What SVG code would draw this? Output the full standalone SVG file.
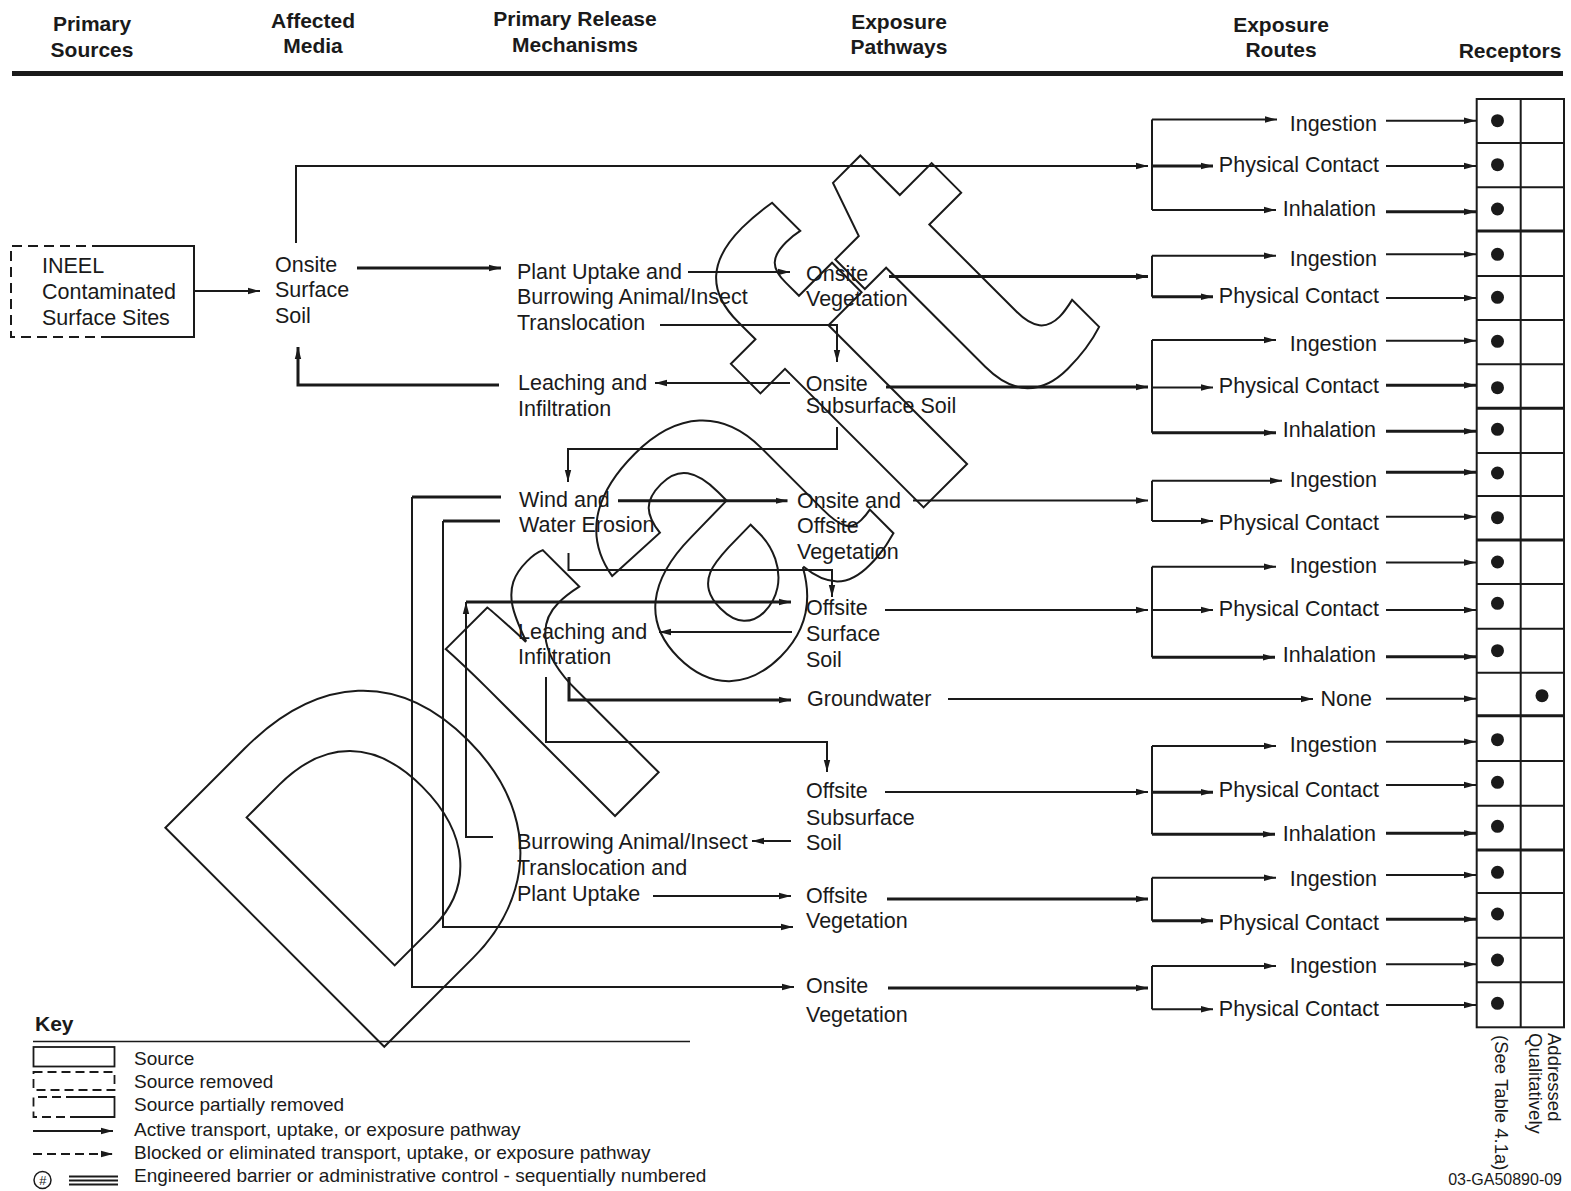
<svg xmlns="http://www.w3.org/2000/svg" width="1571" height="1191" viewBox="0 0 1571 1191">
<style>
text{fill:#1a1a1a}
.h{font:bold 21px "Liberation Sans",Arial,sans-serif;text-anchor:middle}
.t{font:21.5px "Liberation Sans",Arial,sans-serif}
.e{text-anchor:end}
.k{font:19px "Liberation Sans",Arial,sans-serif}
.v{font:18.5px "Liberation Sans",Arial,sans-serif}
.ln{fill:none;stroke:#1a1a1a;stroke-width:2}
.th{stroke-width:3}
.ar{marker-end:url(#ah)}
.ds{stroke-dasharray:10,6}
.dot{fill:#1a1a1a}
.wm{font:bold 450px "Liberation Sans",Arial,sans-serif;fill:none;stroke:#1a1a1a;stroke-width:2}
</style>
<defs>
<marker id="ah" markerWidth="12" markerHeight="8" refX="12" refY="4" orient="auto" markerUnits="userSpaceOnUse"><path d="M0,0.8 L12,4 L0,7.2 z" fill="#1a1a1a"/></marker>
</defs>
<rect width="1571" height="1191" fill="#fff"/>

<g id="header">
<text class="h" x="92" y="31">Primary</text><text class="h" x="92" y="57">Sources</text>
<text class="h" x="313" y="28">Affected</text><text class="h" x="313" y="53">Media</text>
<text class="h" x="575" y="26">Primary Release</text><text class="h" x="575" y="52">Mechanisms</text>
<text class="h" x="899" y="29">Exposure</text><text class="h" x="899" y="54">Pathways</text>
<text class="h" x="1281" y="32">Exposure</text><text class="h" x="1281" y="57">Routes</text>
<text class="h" x="1510" y="58">Receptors</text>
<rect x="12" y="71" width="1551" height="5" fill="#1a1a1a"/>
</g>

<g id="connectors">
<path class="ln ar" d="M194,291 H260"/>
<path class="ln ar" d="M296,243 V166 H1148"/>
<path class="ln th ar" d="M357,268 H501"/>
<path class="ln th ar" d="M499,385 H298 V347"/>
<path class="ln ar" d="M688,272 H790"/>
<path class="ln ar" d="M660,325 H837 V362"/>
<path class="ln th ar" d="M889,276.5 H1148"/>
<path class="ln ar" d="M790,383 H655"/>
<path class="ln th ar" d="M886,387 H1148"/>
<path class="ln ar" d="M837,427 V449 H568 V482"/>
<path class="ln th ar" d="M618,500.7 H787.5"/>
<path class="ln ar" d="M913,500.5 H1148"/>
<path class="ln th" d="M501,497 H412"/>
<path class="ln ar" d="M412,497 V987 H794"/>
<path class="ln th" d="M500,521 H443"/>
<path class="ln ar" d="M443,521 V927 H793"/>
<path class="ln ar" d="M568.5,553 V570 H832 V597"/>
<path class="ln ar" d="M493,837 H466 V602"/>
<path class="ln th ar" d="M466,602 H791"/>
<path class="ln ar" d="M885,610 H1148"/>
<path class="ln ar" d="M792,632 H659"/>
<path class="ln th ar" d="M569,677 V700 H791"/>
<path class="ln ar" d="M948,699 H1313"/>
<path class="ln ar" d="M546,677 V742 H827 V772"/>
<path class="ln ar" d="M885,792 H1148"/>
<path class="ln ar" d="M791,841 H752"/>
<path class="ln ar" d="M653,896 H791"/>
<path class="ln th ar" d="M887,899 H1148"/>
<path class="ln th ar" d="M888,988 H1148"/>
<!-- brackets -->
<path class="ln" d="M1152,119.5 V210 M1152,255.7 V296.7 M1152,340 V432.7 M1152,480.7 V521 M1152,566.7 V657.3 M1152,746 V834.3 M1152,877.7 V920.7 M1152,966 V1009.3"/>
<path class="ln ar" d="M1152,119.5 H1277"/>
<path class="ln th ar" d="M1152,166 H1213"/>
<path class="ln ar" d="M1152,210 H1276"/>
<path class="ln ar" d="M1152,255.7 H1276"/>
<path class="ln th ar" d="M1152,296.7 H1213"/>
<path class="ln ar" d="M1152,340 H1276"/>
<path class="ln ar" d="M1152,387.5 H1213"/>
<path class="ln th ar" d="M1152,432.7 H1276"/>
<path class="ln ar" d="M1152,480.7 H1282"/>
<path class="ln ar" d="M1152,521 H1213"/>
<path class="ln ar" d="M1152,566.7 H1276"/>
<path class="ln ar" d="M1152,610 H1213"/>
<path class="ln th ar" d="M1152,657.3 H1275"/>
<path class="ln ar" d="M1152,746 H1276"/>
<path class="ln th ar" d="M1152,792.3 H1213"/>
<path class="ln th ar" d="M1152,834.3 H1275"/>
<path class="ln ar" d="M1152,877.7 H1276"/>
<path class="ln th ar" d="M1152,920.7 H1213"/>
<path class="ln ar" d="M1152,966 H1276"/>
<path class="ln ar" d="M1152,1009.3 H1213"/>
<!-- route to receptor arrows -->
<path class="ln ar" d="M1386,120.7 H1476"/>
<path class="ln ar" d="M1386,166 H1476"/>
<path class="ln th ar" d="M1386,211.7 H1476"/>
<path class="ln ar" d="M1386,254.3 H1476"/>
<path class="ln ar" d="M1386,298 H1476"/>
<path class="ln ar" d="M1386,340.7 H1476"/>
<path class="ln th ar" d="M1386,385.3 H1476"/>
<path class="ln th ar" d="M1386,431.3 H1476"/>
<path class="ln th ar" d="M1386,472.3 H1476"/>
<path class="ln ar" d="M1386,516.7 H1476"/>
<path class="ln ar" d="M1386,562.5 H1476"/>
<path class="ln ar" d="M1386,610 H1476"/>
<path class="ln th ar" d="M1386,656.7 H1476"/>
<path class="ln ar" d="M1386,698.7 H1476"/>
<path class="ln ar" d="M1386,741.7 H1476"/>
<path class="ln ar" d="M1386,785 H1476"/>
<path class="ln th ar" d="M1386,833.3 H1476"/>
<path class="ln ar" d="M1386,875 H1476"/>
<path class="ln th ar" d="M1386,919.3 H1476"/>
<path class="ln ar" d="M1386,964.3 H1476"/>
<path class="ln ar" d="M1386,1005 H1476"/>
</g>

<g id="ineel-sites">
<path class="ln" d="M102,246 H194 V337 H102"/>
<path class="ln ds" d="M102,246 H11 V337 H102"/>
<text class="t" x="42" y="273">INEEL</text>
<text class="t" x="42" y="299">Contaminated</text>
<text class="t" x="42" y="325">Surface Sites</text>
</g>
<g id="onsite-surface-soil"><text class="t" x="275" y="272">Onsite</text><text class="t" x="275" y="297">Surface</text><text class="t" x="275" y="322.5">Soil</text></g>
<g id="plant-uptake-1"><text class="t" x="517" y="278.5">Plant Uptake and</text><text class="t" x="517" y="304">Burrowing Animal/Insect</text><text class="t" x="517" y="330">Translocation</text></g>
<g id="leaching-1"><text class="t" x="518" y="390">Leaching and</text><text class="t" x="518" y="416">Infiltration</text></g>
<g id="wind-water-erosion"><text class="t" x="519" y="506.7">Wind and</text><text class="t" x="519" y="532.3">Water Erosion</text></g>
<g id="leaching-2"><text class="t" x="518" y="639.3">Leaching and</text><text class="t" x="518" y="664.3">Infiltration</text></g>
<g id="burrowing-2"><text class="t" x="517" y="849.3">Burrowing Animal/Insect</text><text class="t" x="517" y="875">Translocation and</text><text class="t" x="517" y="900.7">Plant Uptake</text></g>
<g id="onsite-vegetation-1"><text class="t" x="806" y="280.7">Onsite</text><text class="t" x="806" y="306">Vegetation</text></g>
<g id="onsite-subsurface-soil"><text class="t" x="805.7" y="391">Onsite</text><text class="t" x="805.7" y="413.3">Subsurface Soil</text></g>
<g id="onsite-offsite-vegetation"><text class="t" x="797" y="507.5">Onsite and</text><text class="t" x="797" y="533.3">Offsite</text><text class="t" x="797" y="559.3">Vegetation</text></g>
<g id="offsite-surface-soil"><text class="t" x="806" y="615.3">Offsite</text><text class="t" x="806" y="641.3">Surface</text><text class="t" x="806" y="667">Soil</text></g>
<g id="groundwater"><text class="t" x="807" y="706">Groundwater</text></g>
<g id="offsite-subsurface-soil"><text class="t" x="806" y="798.3">Offsite</text><text class="t" x="806" y="825">Subsurface</text><text class="t" x="806" y="850">Soil</text></g>
<g id="offsite-vegetation"><text class="t" x="806" y="902.7">Offsite</text><text class="t" x="806" y="928.3">Vegetation</text></g>
<g id="onsite-vegetation-2"><text class="t" x="806" y="993.3">Onsite</text><text class="t" x="806" y="1021.7">Vegetation</text></g>

<g id="routes">
<text class="t e" x="1377" y="130.7">Ingestion</text>
<text class="t e" x="1379" y="172.3">Physical Contact</text>
<text class="t e" x="1376" y="216">Inhalation</text>
<text class="t e" x="1377" y="265.7">Ingestion</text>
<text class="t e" x="1379" y="303.3">Physical Contact</text>
<text class="t e" x="1377" y="350.7">Ingestion</text>
<text class="t e" x="1379" y="392.7">Physical Contact</text>
<text class="t e" x="1376" y="436.7">Inhalation</text>
<text class="t e" x="1377" y="487.3">Ingestion</text>
<text class="t e" x="1379" y="530">Physical Contact</text>
<text class="t e" x="1377" y="573.3">Ingestion</text>
<text class="t e" x="1379" y="616">Physical Contact</text>
<text class="t e" x="1376" y="662.3">Inhalation</text>
<text class="t e" x="1372" y="705.7">None</text>
<text class="t e" x="1377" y="752.3">Ingestion</text>
<text class="t e" x="1379" y="796.7">Physical Contact</text>
<text class="t e" x="1376" y="841">Inhalation</text>
<text class="t e" x="1377" y="886">Ingestion</text>
<text class="t e" x="1379" y="930">Physical Contact</text>
<text class="t e" x="1377" y="973.3">Ingestion</text>
<text class="t e" x="1379" y="1015.7">Physical Contact</text>
</g>

<g id="receptors">
<rect class="ln" x="1476.7" y="99" width="87.3" height="928.3"/>
<path class="ln" d="M1520.7,99 V1027.3"/>
<path class="ln" d="M1476.7,143 H1564 M1476.7,187.3 H1564 M1476.7,276 H1564 M1476.7,320 H1564 M1476.7,364.3 H1564 M1476.7,453 H1564 M1476.7,496 H1564 M1476.7,584 H1564 M1476.7,628.7 H1564 M1476.7,672.7 H1564 M1476.7,761 H1564 M1476.7,805.7 H1564 M1476.7,893 H1564 M1476.7,937.7 H1564 M1476.7,982.3 H1564"/>
<path class="ln th" d="M1476.7,231 H1564 M1476.7,408.3 H1564 M1476.7,540 H1564 M1476.7,715.7 H1564 M1476.7,850 H1564"/>
<circle class="dot" cx="1497.5" cy="120.7" r="6.5"/>
<circle class="dot" cx="1497.5" cy="164.7" r="6.5"/>
<circle class="dot" cx="1497.5" cy="209" r="6.5"/>
<circle class="dot" cx="1497.5" cy="254.3" r="6.5"/>
<circle class="dot" cx="1497.5" cy="297.3" r="6.5"/>
<circle class="dot" cx="1497.5" cy="341.3" r="6.5"/>
<circle class="dot" cx="1497.5" cy="387.7" r="6.5"/>
<circle class="dot" cx="1497.5" cy="429.3" r="6.5"/>
<circle class="dot" cx="1497.5" cy="473" r="6.5"/>
<circle class="dot" cx="1497.5" cy="517.7" r="6.5"/>
<circle class="dot" cx="1497.5" cy="562" r="6.5"/>
<circle class="dot" cx="1497.5" cy="603.3" r="6.5"/>
<circle class="dot" cx="1497.5" cy="650.7" r="6.5"/>
<circle class="dot" cx="1542" cy="695.7" r="6.5"/>
<circle class="dot" cx="1497.5" cy="739.7" r="6.5"/>
<circle class="dot" cx="1497.5" cy="782.3" r="6.5"/>
<circle class="dot" cx="1497.5" cy="826.3" r="6.5"/>
<circle class="dot" cx="1497.5" cy="872.3" r="6.5"/>
<circle class="dot" cx="1497.5" cy="914" r="6.5"/>
<circle class="dot" cx="1497.5" cy="960" r="6.5"/>
<circle class="dot" cx="1497.5" cy="1003.3" r="6.5"/>
<text class="v" transform="translate(1495,1035) rotate(90)">(See Table 4.1a)</text>
<text class="v" transform="translate(1529,1033) rotate(90)">Qualitatively</text>
<text class="v" transform="translate(1548,1033) rotate(90)">Addressed</text>
</g>

<g id="key">
<text x="35" y="1031" style="font:bold 21px 'Liberation Sans',Arial,sans-serif">Key</text>
<path class="ln" style="stroke-width:1.5" d="M33,1041.5 H690"/>
<rect class="ln" style="stroke-width:1.8" x="33.5" y="1047" width="81" height="19.5"/>
<text class="k" x="134" y="1064.5">Source</text>
<rect class="ln" style="stroke-width:1.8;stroke-dasharray:9,5" x="33.5" y="1072" width="81" height="18"/>
<text class="k" x="134" y="1087.5">Source removed</text>
<path class="ln" style="stroke-width:1.8" d="M75,1097 H114.5 V1117 H75"/>
<path class="ln" style="stroke-width:1.8;stroke-dasharray:9,5" d="M75,1097 H33.5 V1117 H75"/>
<text class="k" x="134" y="1111">Source partially removed</text>
<path class="ln ar" style="stroke-width:1.8" d="M33,1131 H113"/>
<text class="k" x="134" y="1136">Active transport, uptake, or exposure pathway</text>
<path class="ln ar" style="stroke-width:1.8;stroke-dasharray:9,5" d="M33,1154 H113"/>
<text class="k" x="134" y="1159">Blocked or eliminated transport, uptake, or exposure pathway</text>
<circle class="ln" style="stroke-width:1.5" cx="42.5" cy="1180" r="8.5"/>
<text x="42.5" y="1185" style="font:italic 13px 'Liberation Sans',Arial,sans-serif;text-anchor:middle">#</text>
<path class="ln" style="stroke-width:2" d="M69,1176.5 H118 M69,1180.5 H118 M69,1184.5 H118"/>
<text class="k" x="134" y="1182">Engineered barrier or administrative control - sequentially numbered</text>
</g>

<text x="1562" y="1185" style="font:16px 'Liberation Sans',Arial,sans-serif;text-anchor:end">03-GA50890-09</text>

<g id="watermark">
<text class="wm" transform="translate(363,1068) rotate(-45)">Draft</text>
</g>
</svg>
